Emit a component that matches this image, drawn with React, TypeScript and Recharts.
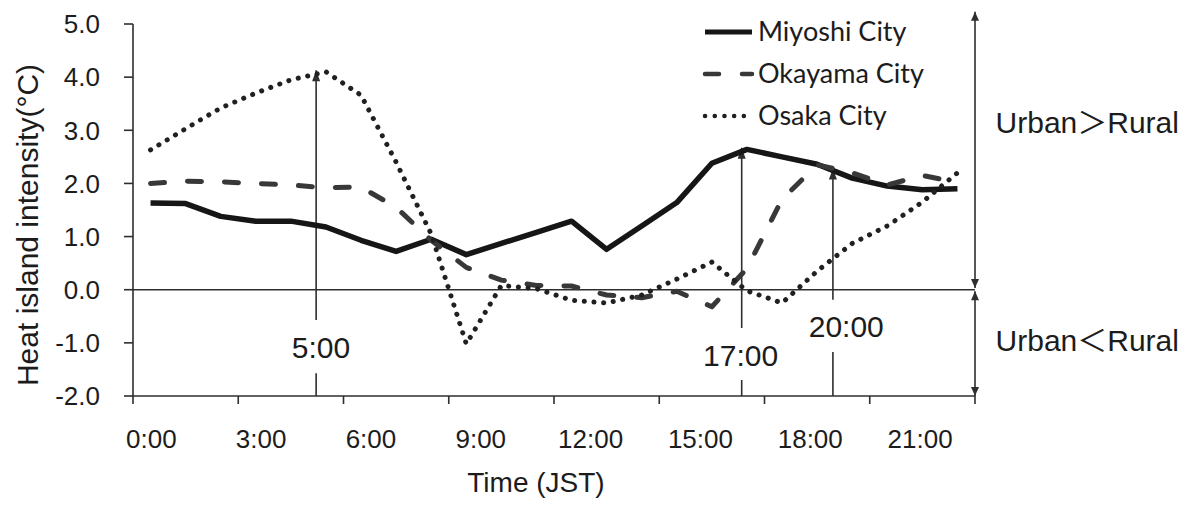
import React from 'react';
import { LineChart, Line, XAxis, YAxis, ReferenceLine, ReferenceDot, Legend } from 'recharts';

// ---- data ----
const hours = [0, 1, 2, 3, 4, 5, 6, 7, 8, 9, 10, 11, 12, 13, 14, 15, 16, 17, 18, 19, 20, 21, 22, 23];
const miyoshi = [1.63, 1.62, 1.38, 1.29, 1.29, 1.18, 0.93, 0.72, 0.95, 0.66, 0.87, 1.08, 1.29, 0.76, 1.2, 1.64, 2.38, 2.64, 2.5, 2.36, 2.1, 1.95, 1.88, 1.9];
const okayama = [2.0, 2.04, 2.03, 2.0, 1.97, 1.92, 1.93, 1.55, 0.93, 0.42, 0.18, 0.08, 0.07, -0.1, -0.15, -0.03, -0.32, 0.4, 1.7, 2.35, 2.2, 1.97, 2.15, 2.02];
const osaka = [2.63, 3.03, 3.42, 3.7, 3.95, 4.1, 3.66, 2.4, 1.05, -1.02, 0.08, 0.02, -0.2, -0.25, -0.1, 0.2, 0.52, -0.02, -0.25, 0.35, 0.87, 1.2, 1.65, 2.2];

const seriesKeys = ['miyoshi', 'okayama', 'osaka'];
const seriesNames = ['Miyoshi City', 'Okayama City', 'Osaka City'];

const labelHours = [0, 3, 6, 9, 12, 15, 18, 21];
const hourLabels = ['0:00', '3:00', '6:00', '9:00', '12:00', '15:00', '18:00', '21:00'];
const boundaryHours = [0, 3, 6, 9, 12, 15, 18, 21, 24];
const yTicks = [-2, -1, 0, 1, 2, 3, 4, 5];

// annotations (data units)
const markTexts = ['5:00', '17:00', '20:00'];
const markX = [5.22, 17.35, 19.95];
const markArrowTop = [4.13, 2.67, 2.28];
const markArrowBottom = [-0.57, -0.72, -0.19];
const markTickTop = [-1.57, -1.7, -1.17];
const markLabelX = [5.36, 17.32, 20.33];
const markLabelY = [-1.09, -1.23, -0.69];

const sideTexts = ['Urban＞Rural', 'Urban＜Rural'];
const sideTextX = [27.2, 27.2];
const sideTextY = [3.14, -0.95];
const sideArrowX = 24;
const sideArrowTop = 5.23;

const data = hours.map((h, i) => ({
  t: h + 0.5,
  miyoshi: miyoshi[i],
  okayama: okayama[i],
  osaka: osaka[i],
}));

// ---- styles ----
const INK = '#1c1c1c';
const AX = '#2e2e2e';
const seriesStyle: Record<string, { stroke: string; width: number; dash?: string }> = {
  miyoshi: { stroke: '#161616', width: 5.5 },
  okayama: { stroke: '#383838', width: 5, dash: '14 23' },
  osaka: { stroke: '#202020', width: 5, dash: '0.1 9.6' },
};

const arrowShape = (up: boolean, down: boolean, hw = 4.5, hh = 11) => (props: any) => {
  const { x1, y1, y2 } = props;
  const top = Math.min(y1, y2);
  const bottom = Math.max(y1, y2);
  const x = x1;
  return (
    <g>
      <line x1={x} x2={x} y1={top} y2={bottom} stroke={AX} strokeWidth={1.6} />
      {up && <polygon points={`${x},${top} ${x - hw},${top + hh} ${x + hw},${top + hh}`} fill={AX} />}
      {down && <polygon points={`${x},${bottom} ${x - hw},${bottom - hh} ${x + hw},${bottom - hh}`} fill={AX} />}
    </g>
  );
};

const plainLine = (props: any) => {
  const { x1, y1, x2, y2 } = props;
  return <line x1={x1} x2={x2} y1={y1} y2={y2} stroke={AX} strokeWidth={1.6} />;
};

const renderLegend = (props: any) => {
  const payload = props.payload || [];
  return (
    <svg width={260} height={130} style={{ overflow: 'visible' }}>
      {payload.map((entry: any, i: number) => {
        const key = entry.dataKey as string;
        const st = seriesStyle[key];
        const cy = 22 + i * 42;
        return (
          <g key={key}>
            <line
              x1={5}
              x2={52}
              y1={cy}
              y2={cy}
              stroke={st.stroke}
              strokeWidth={st.width - 0.5}
              strokeDasharray={st.dash}
              strokeLinecap={st.dash ? 'round' : 'butt'}
            />
            <text x={58} y={cy} dy="0.35em" fontSize={27} fill={INK} fontFamily="Lato, 'Noto Sans', sans-serif">
              {entry.value}
            </text>
          </g>
        );
      })}
    </svg>
  );
};

export default function App() {
  return (
    <div style={{ position: 'absolute', left: 0, top: 0, background: '#fff', fontFamily: "'Liberation Sans', Arial, 'Noto Sans CJK JP', sans-serif" }}>
      <LineChart width={1191} height={505} data={data} margin={{ top: 24, right: 216, bottom: 0, left: 0 }}>
        <XAxis
          dataKey="t"
          type="number"
          domain={[0, 24]}
          ticks={boundaryHours}
          interval={0}
          tickFormatter={() => ''}
          tickSize={8}
          height={10}
          axisLine={{ stroke: AX, strokeWidth: 1.6 }}
          tickLine={{ stroke: AX, strokeWidth: 1.6 }}
        />
        <XAxis
          xAxisId="labels"
          type="number"
          domain={[0, 24]}
          ticks={labelHours.map((h) => h + 0.5)}
          interval={0}
          tickFormatter={(v: number) => hourLabels[labelHours.indexOf(v - 0.5)]}
          tickSize={0}
          tickMargin={24}
          height={99}
          axisLine={false}
          tickLine={false}
          tick={{ fontSize: 26, fill: INK }}
          label={{ value: 'Time (JST)', position: 'insideBottom', offset: 13, dx: -18, fontSize: 28, fill: INK }}
        />
        <YAxis
          type="number"
          domain={[-2, 5]}
          ticks={yTicks}
          interval={0}
          width={133}
          tickSize={9}
          tickMargin={24}
          tickFormatter={(v: number) => v.toFixed(1)}
          tick={{ fontSize: 26, fill: INK }}
          axisLine={{ stroke: AX, strokeWidth: 1.6 }}
          tickLine={{ stroke: AX, strokeWidth: 1.6 }}
          label={{
            content: (p: any) => {
              const vb = p.viewBox || { x: 0, y: 24, width: 133, height: 372 };
              const cx = vb.x + 27;
              const cy = vb.y + vb.height / 2 + 15;
              return (
                <text
                  x={cx}
                  y={cy}
                  transform={`rotate(-90, ${cx}, ${cy})`}
                  textAnchor="middle"
                  dominantBaseline="central"
                  fontSize={30}
                  fill={INK}
                >
                  Heat island intensity(°C)
                </text>
              );
            },
          }}
        />
        <ReferenceLine y={0} stroke={AX} strokeWidth={1.4} />

        {markTexts.map((m, i) => (
          <ReferenceLine
            key={`up-${m}`}
            segment={[{ x: markX[i], y: markArrowBottom[i] }, { x: markX[i], y: markArrowTop[i] }]}
            shape={arrowShape(true, false, 4, 11)}
            ifOverflow="visible"
          />
        ))}
        {markTexts.map((m, i) => (
          <ReferenceLine
            key={`lo-${m}`}
            segment={[{ x: markX[i], y: -2 }, { x: markX[i], y: markTickTop[i] }]}
            shape={plainLine}
            ifOverflow="visible"
          />
        ))}
        {markTexts.map((m, i) => (
          <ReferenceDot
            key={`lb-${m}`}
            x={markLabelX[i]}
            y={markLabelY[i]}
            r={0}
            fill="none"
            stroke="none"
            ifOverflow="visible"
            label={{ value: m, position: 'center', fontSize: 30, fill: INK }}
          />
        ))}

        <ReferenceLine
          segment={[{ x: sideArrowX, y: 0.03 }, { x: sideArrowX, y: sideArrowTop }]}
          shape={arrowShape(true, true, 4, 9)}
          ifOverflow="visible"
        />
        <ReferenceLine
          segment={[{ x: sideArrowX, y: -2 }, { x: sideArrowX, y: -0.03 }]}
          shape={arrowShape(true, true, 4, 9)}
          ifOverflow="visible"
        />
        {sideTexts.map((s, i) => (
          <ReferenceDot
            key={s}
            x={sideTextX[i]}
            y={sideTextY[i]}
            r={0}
            fill="none"
            stroke="none"
            ifOverflow="visible"
            label={{ value: s, position: 'center', fontSize: 30, fill: INK }}
          />
        ))}

        {seriesKeys.map((k, i) => (
          <Line
            key={k}
            dataKey={k}
            name={seriesNames[i]}
            type="linear"
            stroke={seriesStyle[k].stroke}
            strokeWidth={seriesStyle[k].width}
            strokeDasharray={seriesStyle[k].dash}
            strokeLinecap={seriesStyle[k].dash ? 'round' : 'butt'}
            strokeLinejoin="round"
            dot={false}
            activeDot={false}
            isAnimationActive={false}
          />
        ))}
        <Legend
          layout="vertical"
          align="center"
          verticalAlign="middle"
          content={renderLegend}
          wrapperStyle={{ position: 'absolute', left: 700, top: 10, width: 260, height: 130 }}
        />
      </LineChart>
    </div>
  );
}
